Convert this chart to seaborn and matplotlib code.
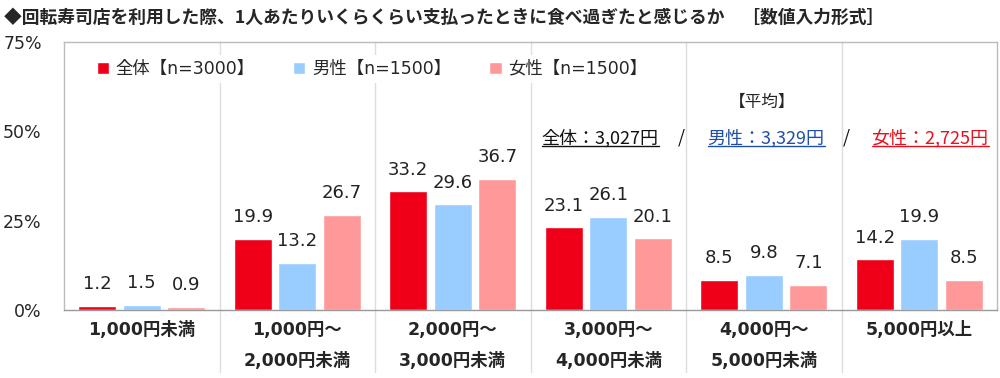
import numpy as np
import pandas as pd
import seaborn as sns
from matplotlib import pyplot as plt

categories = ['1,000円未満', '1,000円～\n2,000円未満', '2,000円～\n3,000円未満',
              '3,000円～\n4,000円未満', '4,000円～\n5,000円未満', '5,000円以上']
groups = ['全体【n=3000】', '男性【n=1500】', '女性【n=1500】']
total = [1.2, 19.9, 33.2, 23.1, 8.5, 14.2]
male = [1.5, 13.2, 29.6, 26.1, 9.8, 19.9]
female = [0.9, 26.7, 36.7, 20.1, 7.1, 8.5]
colors = ['#F00018', '#99CCFF', '#FF9999']
yticks = [0, 25, 50, 75]

sns.set_theme(style='white')
plt.rcParams['font.family'] = ['DejaVu Sans', 'Noto Sans CJK JP']

df = pd.DataFrame({
    'cat': categories * 3,
    'grp': np.repeat(groups, len(categories)),
    'val': total + male + female,
})

fig = plt.figure(figsize=(10, 3.78), dpi=100)
ax = fig.add_axes([0.064, 0.18, 0.933, 0.709])

sns.barplot(data=df, x='cat', y='val', hue='grp', palette=colors,
            width=0.86, gap=0.15, ax=ax, saturation=1)

for cont in ax.containers:
    ax.bar_label(cont, fmt='%.1f', padding=9, fontsize=13, color='#222222')

ax.set_ylim(0, 75)
ax.set_xlim(-0.5, len(categories) - 0.5)
ax.set_yticks(yticks)
ax.set_yticklabels([f'{t}%' for t in yticks], fontsize=12.5)
ax.tick_params(axis='y', length=3, color='#888888', pad=13)
ax.tick_params(axis='x', length=0, pad=8)
ax.set_xticklabels(categories, fontsize=12.5, fontweight='bold', linespacing=1.95)
for lab in ax.get_xticklabels():
    lab.set_verticalalignment('top')
ax.set_xlabel('')
ax.set_ylabel('')

for s in ax.spines.values():
    s.set_color('#BBBBBB')
    s.set_linewidth(1)
ax.spines['bottom'].set_color('#999999')

# category separators, extended below the axis
for i in range(1, len(categories)):
    ax.axvline(i - 0.5, ymin=-0.23, ymax=1, color='#DDDDDD', lw=1,
               clip_on=False, zorder=0)

leg = ax.legend(loc='upper left', bbox_to_anchor=(0.02, 0.985), ncol=3,
                fontsize=12.5, frameon=True, facecolor='white', edgecolor='white',
                framealpha=1, handlelength=0.7, handleheight=0.7,
                columnspacing=2.2, handletextpad=0.4, borderpad=0.3)
leg.get_frame().set_linewidth(0)

fig.text(0.004, 0.952, '◆回転寿司店を利用した際、1人あたりいくらくらい支払ったときに食べ過ぎたと感じるか　［数値入力形式］',
         fontsize=12.8, fontweight='bold', va='center', ha='left',
         family=['Noto Sans CJK JP', 'DejaVu Sans'])

fig.text(0.762, 0.728, '【平均】', fontsize=12, ha='center', va='center',
         family=['Noto Sans CJK JP', 'DejaVu Sans'])

avg_parts = [('全体：3,027円', '#111111', 0.600),
             ('/', '#111111', 0.681),
             ('男性：3,329円', '#1F4FA8', 0.766),
             ('/', '#111111', 0.846),
             ('女性：2,725円', '#E8101E', 0.930)]
texts = []
for s, c, x in avg_parts:
    t = fig.text(x, 0.635, s, fontsize=13, color=c, ha='center', va='center',
                 family=['Noto Sans CJK JP', 'DejaVu Sans'])
    texts.append((t, s, c))

fig.canvas.draw()
r = fig.canvas.get_renderer()
inv = fig.transFigure.inverted()
for t, s, c in texts:
    if s == '/':
        continue
    bb = t.get_window_extent(r)
    (x0, y0), (x1, _) = inv.transform([(bb.x0, bb.y0), (bb.x1, bb.y1)])
    fig.add_artist(plt.Line2D([x0, x1], [y0 + 0.003, y0 + 0.003], color=c, lw=1,
                              transform=fig.transFigure))

fig.savefig('out.png', dpi=100)
